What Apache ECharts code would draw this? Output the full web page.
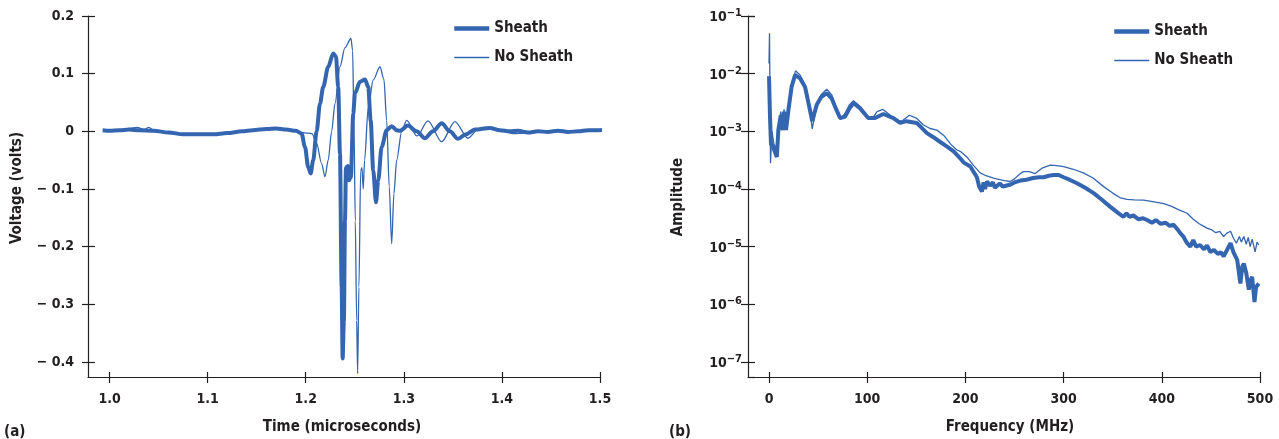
<!DOCTYPE html>
<html>
<head>
<meta charset="utf-8">
<script src="https://cdn.jsdelivr.net/npm/echarts@6/dist/echarts.min.js"></script>
<style>
html, body { margin: 0; padding: 0; background: #fff; }
#charts { width: 1279px; height: 439px; }
</style>
</head>
<body>
<div id="charts"></div>
<script>
// ticks
var timeTicks = [1.0, 1.1, 1.2, 1.3, 1.4, 1.5];
var voltTicks = [-0.4, -0.3, -0.2, -0.1, 0, 0.1, 0.2];
var freqTicks = [0, 100, 200, 300, 400, 500];

// (a) time domain
var sheathTime = [0.993, 1.000, 1.010, 1.020, 1.030, 1.045, 1.060, 1.075, 1.090, 1.106, 1.120, 1.135, 1.146, 1.160, 1.170, 1.180, 1.190,
    1.1958, 1.1992, 1.2025, 1.2050, 1.2076, 1.2111, 1.2145, 1.2178, 1.2229, 1.2280, 1.2308, 1.2331, 1.2349, 1.2366, 1.2376, 1.2389, 1.2400,
    1.2410, 1.2430, 1.2440, 1.2460, 1.2484, 1.2502, 1.2553, 1.2604, 1.2637, 1.2662, 1.2688, 1.2716, 1.2739, 1.2774, 1.2825, 1.2876, 1.2927,
    1.2960, 1.3042, 1.3130, 1.3215, 1.3297, 1.3386, 1.3470, 1.3552, 1.3634, 1.3725, 1.3878, 1.398, 1.408, 1.4165, 1.4266, 1.4368, 1.447,
    1.4572, 1.4674, 1.4776, 1.4878, 1.498, 1.5071];
var sheathVolt = [0.002, 0.001, 0.002, 0.003, 0.002, 0.001, -0.002, -0.005, -0.005, -0.005, -0.003, 0.000, 0.002, 0.004, 0.005, 0.003, 0.001,
    -0.004, -0.027, -0.062, -0.073, -0.050, 0.000, 0.048, 0.077, 0.112, 0.135, 0.130, 0.077, -0.039, -0.270, -0.394, -0.328, -0.155,
    -0.063, -0.060, -0.085, -0.080, 0.030, 0.066, 0.086, 0.090, 0.077, 0.019, -0.068, -0.123, -0.085, -0.027, 0.002, 0.009, 0.002,
    0.001, 0.010, 0.000, -0.012, 0.000, 0.014, 0.000, -0.013, -0.005, 0.003, 0.006, 0.002, 0.000, 0.001, -0.002, 0.000, -0.001,
    0.001, -0.001, 0.000, 0.002, 0.002, 0.003];

var noSheathTime = [0.993, 1.005, 1.015, 1.020, 1.028, 1.035, 1.040, 1.045, 1.060, 1.075, 1.090, 1.106, 1.120, 1.135, 1.146, 1.160, 1.170,
    1.180, 1.190, 1.1958, 1.2025, 1.2063, 1.2110, 1.2162, 1.2196, 1.2229, 1.2264, 1.2298, 1.2349, 1.2400, 1.2461, 1.2478, 1.2491, 1.2505,
    1.2519, 1.2529, 1.2542, 1.2560, 1.2573, 1.2586, 1.2600, 1.2637, 1.2688, 1.2757, 1.2797, 1.2825, 1.2851, 1.2876, 1.2899, 1.2927, 1.2978,
    1.3029, 1.3134, 1.3246, 1.3386, 1.3521, 1.3654, 1.3756, 1.3827, 1.398, 1.4113, 1.4256, 1.4368, 1.447, 1.4572, 1.4674, 1.4776, 1.4878,
    1.498, 1.5071];
var noSheathVolt = [0.003, 0.002, 0.003, 0.005, 0.007, 0.003, 0.007, 0.002, -0.002, -0.004, -0.005, -0.004, -0.003, 0.000, 0.002, 0.003, 0.004,
    0.003, 0.001, -0.002, -0.003, -0.004, -0.020, -0.056, -0.079, -0.050, 0.000, 0.048, 0.112, 0.145, 0.161, 0.140, 0.019, -0.155,
    -0.328, -0.420, -0.270, -0.068, -0.063, -0.100, -0.050, 0.042, 0.089, 0.112, 0.090, 0.019, -0.096, -0.195, -0.108, -0.050, 0.000,
    0.019, -0.008, 0.018, -0.018, 0.017, -0.012, 0.003, 0.007, 0.002, -0.004, -0.003, 0.000, -0.001, 0.001, -0.001, 0.000, 0.002,
    0.002, 0.003];

// (b) spectrum
var sheathFreq = [0, 1, 2, 4, 6, 8, 9.5, 12, 14, 15.3, 17.3, 19.7, 23, 26.5, 31.6, 36.7, 41.8, 44, 48.6, 53, 58.8, 63.9, 68, 72.4, 77.5,
    82, 86, 92.8, 101, 108, 116.5, 126.7, 133.5, 140, 150.5, 160.8, 167, 174, 181, 188, 194.7, 198, 205, 211.7, 214, 216.8, 218.5, 220,
    222, 225, 228, 230, 232, 235, 238, 242, 246, 250, 256, 262, 269, 275, 279.6, 285, 290, 295, 300, 306, 313.6, 322, 330.6, 339, 347.6,
    355, 361, 364, 367, 371, 376, 381, 385, 390, 394, 398.6, 404, 408, 412, 416, 419, 422, 425, 429, 432, 435, 439, 443, 446, 449.5, 453,
    457, 460, 463, 466, 470, 473, 476.8, 480, 482, 483.5, 486, 488.6, 490, 492, 494.4, 496, 498.8];
var sheathAmp = [9e-3, 1.8e-3, 6e-4, 5.4e-4, 5e-4, 3.6e-4, 1.05e-3, 1.9e-3, 1.05e-3, 2.2e-3, 1.05e-3, 2.3e-3, 5.9e-3, 9.5e-3, 8.3e-3, 5.9e-3, 2.3e-3, 1.5e-3, 2.9e-3, 3.9e-3, 4.6e-3, 3.7e-3, 2.5e-3, 1.7e-3, 1.8e-3,
    2.5e-3, 3.1e-3, 2.5e-3, 1.7e-3, 1.7e-3, 2.0e-3, 1.7e-3, 1.4e-3, 1.5e-3, 1.4e-3, 9.3e-4, 8e-4, 6.6e-4, 5.5e-4, 4.5e-4, 3.4e-4, 2.9e-4, 2.45e-4, 1.6e-4, 1.1e-4, 9e-5, 1.3e-4, 1.0e-4,
    1.35e-4, 1.15e-4, 1.3e-4, 1.05e-4, 1.0e-4, 1.25e-4, 1.1e-4, 1.15e-4, 1.2e-4, 1.3e-4, 1.4e-4, 1.45e-4, 1.55e-4, 1.6e-4, 1.6e-4, 1.7e-4, 1.75e-4, 1.75e-4, 1.6e-4, 1.45e-4, 1.26e-4, 1.05e-4, 8.5e-5, 6.5e-5, 4.9e-5,
    3.9e-5, 3.3e-5, 3.8e-5, 3.3e-5, 3.5e-5, 3.0e-5, 3.1e-5, 2.9e-5, 2.6e-5, 2.9e-5, 2.5e-5, 2.6e-5, 2.3e-5, 2.4e-5, 2.0e-5, 1.7e-5, 1.5e-5, 1.2e-5, 1.0e-5, 1.3e-5, 1.0e-5, 1.07e-5, 9.0e-6, 1.05e-5, 8.1e-6, 8.8e-6,
    7.5e-6, 8.0e-6, 6.8e-6, 8.5e-6, 1.15e-5, 8e-6, 5.9e-6, 2.3e-6, 4.5e-6, 5.1e-6, 3.5e-6, 1.8e-6, 2.5e-6, 3.0e-6, 1.1e-6, 2.0e-6, 2.3e-6];

var noSheathFreq = [0, 0.5, 1.5, 3, 5, 8, 9.5, 12, 14, 15.3, 17.3, 19.7, 23, 27, 31.6, 36.7, 41.8, 44, 48.6, 53, 58.8, 63.9, 68, 72.4, 77,
    82, 86, 92.8, 101, 106, 110, 116, 122, 128, 135, 143, 150, 157, 164, 171, 178, 185, 191, 194.7, 201.5, 208, 215, 221, 228.6, 235, 240,
    245.7, 250, 255, 259, 265, 271, 278, 286.4, 293, 300, 310, 320, 330, 340.8, 350, 358, 364.6, 372, 381.6, 392, 402, 410, 418, 425.8,
    432, 438, 442, 446, 451, 455, 459, 463, 466, 470, 473, 476, 479, 481, 483.5, 486, 488, 490, 492, 495, 497, 498.8];
var noSheathAmp = [1.5e-2, 5e-2, 2.8e-4, 1.0e-3, 6e-4, 5e-4, 1.2e-3, 2.2e-3, 1.2e-3, 2.4e-3, 1.2e-3, 2.6e-3, 6.5e-3, 1.12e-2, 9.5e-3, 6.3e-3, 2.2e-3, 1.1e-3, 2.8e-3, 4.3e-3, 5.4e-3, 4.3e-3, 2.6e-3, 1.6e-3, 2.0e-3,
    2.9e-3, 3.4e-3, 2.7e-3, 1.7e-3, 1.75e-3, 2.2e-3, 2.4e-3, 2.0e-3, 1.6e-3, 1.5e-3, 1.9e-3, 1.7e-3, 1.3e-3, 1.12e-3, 1.05e-3, 8.5e-4, 6e-4, 4.8e-4, 4.5e-4, 3.6e-4, 2.6e-4, 1.9e-4, 1.7e-4, 1.55e-4, 1.45e-4, 1.4e-4,
    1.35e-4, 1.5e-4, 1.8e-4, 2.0e-4, 2.0e-4, 1.85e-4, 2.3e-4, 2.6e-4, 2.55e-4, 2.45e-4, 2.2e-4, 1.9e-4, 1.55e-4, 1.1e-4, 8.5e-5, 7.0e-5, 6.6e-5, 6.5e-5, 6.4e-5, 6.0e-5, 5.6e-5, 5.0e-5, 4.3e-5, 3.8e-5,
    3.0e-5, 2.5e-5, 2.3e-5, 2.1e-5, 1.95e-5, 1.75e-5, 1.85e-5, 1.5e-5, 1.7e-5, 1.85e-5, 1.4e-5, 1.15e-5, 1.5e-5, 1.2e-5, 1.5e-5, 1.1e-5, 1.45e-5, 1.0e-5, 1.35e-5, 8.1e-6, 1.2e-5, 1.07e-5];

var FONT = "'Liberation Sans Narrow', 'DejaVu Sans Condensed', 'Arial Narrow', 'Liberation Sans', sans-serif";
var INK = '#231f20';
var BLUE = '#3465b0';

function pairs(xs, ys) {
    return xs.map(function (x, i) { return [x, ys[i]]; });
}

function tickLabel(size) {
    return { fontFamily: FONT, fontWeight: 'bold', fontSize: size, color: INK };
}

var axisLine = { show: true, onZero: false, lineStyle: { color: INK, width: 1.2 } };
var noLine = { show: false, onZero: false };
var tickLine = { color: INK, width: 1.2 };

function mainX(grid, min, max, ticks, fmt) {
    return {
        type: 'value', gridIndex: grid, min: min, max: max, position: 'bottom',
        axisLine: axisLine,
        axisTick: { show: true, length: 6, customValues: ticks, lineStyle: tickLine },
        axisLabel: Object.assign({ customValues: ticks, margin: 15, formatter: fmt }, tickLabel(14)),
        splitLine: { show: false }
    };
}
// second axis only to make the ticks cross the axis line
function innerX(grid, min, max, ticks) {
    return {
        type: 'value', gridIndex: grid, min: min, max: max, position: 'bottom',
        axisLine: noLine,
        axisTick: { show: true, inside: true, length: 5, customValues: ticks, lineStyle: tickLine },
        axisLabel: { show: false }, splitLine: { show: false }
    };
}

function legendBox(left, top, names) {
    return {
        left: left, top: top, orient: 'vertical', padding: 0,
        itemWidth: 35, itemHeight: 14, itemGap: 14,
        itemStyle: { opacity: 0 },
        textStyle: tickLabel(15),
        data: [
            { name: names[0], lineStyle: { width: 4.5, color: BLUE } },
            { name: names[1], lineStyle: { width: 1.3, color: BLUE } }
        ]
    };
}

var myChart = echarts.init(document.getElementById('charts'));

option = {
    animation: false,
    backgroundColor: '#fff',
    grid: [
        { left: 88, top: 16, width: 512, height: 361 },
        { left: 748, top: 16, width: 512, height: 361 }
    ],
    legend: [
        legendBox(452, 21, ['Sheath', 'No Sheath']),
        legendBox(1112, 24, ['Sheath ', 'No Sheath '])
    ],
    xAxis: [
        mainX(0, 0.978, 1.5, timeTicks, function (v) { return v.toFixed(1); }),
        mainX(1, -21.4, 500, freqTicks, function (v) { return String(v); }),
        innerX(0, 0.978, 1.5, timeTicks),
        innerX(1, -21.4, 500, freqTicks)
    ],
    yAxis: [
        {
            type: 'value', gridIndex: 0, min: -0.426, max: 0.2, position: 'left',
            axisLine: axisLine,
            axisTick: { show: true, length: 6, customValues: voltTicks, lineStyle: tickLine },
            axisLabel: Object.assign({
                customValues: voltTicks, margin: 14,
                formatter: function (v) {
                    if (Math.abs(v) < 1e-9) return '0';
                    return v < 0 ? '\u2212 ' + Math.abs(v).toFixed(1) : v.toFixed(1);
                }
            }, tickLabel(14)),
            splitLine: { show: false }
        },
        {
            type: 'log', logBase: 10, gridIndex: 1, min: 5.5e-8, max: 0.1, position: 'left',
            axisLine: axisLine,
            axisTick: { show: true, length: 7, lineStyle: tickLine },
            axisLabel: {
                showMinLabel: false, margin: 6,
                formatter: function (v) {
                    var e = Math.round(Math.log(v) / Math.LN10);
                    return '{b|10}{s|\u2212' + (-e) + '}';
                },
                rich: {
                    b: { fontFamily: FONT, fontWeight: 'bold', fontSize: 14, color: INK, lineHeight: 17, verticalAlign: 'bottom' },
                    s: { fontFamily: FONT, fontWeight: 'bold', fontSize: 11, color: INK, lineHeight: 11, verticalAlign: 'top' }
                }
            },
            splitLine: { show: false }
        },
        {
            type: 'value', gridIndex: 0, min: -0.426, max: 0.2, position: 'left',
            axisLine: noLine,
            axisTick: { show: true, inside: true, length: 7, customValues: voltTicks, lineStyle: tickLine },
            axisLabel: { show: false }, splitLine: { show: false }
        },
        {
            type: 'log', logBase: 10, gridIndex: 1, min: 5.5e-8, max: 0.1, position: 'left',
            axisLine: noLine,
            axisTick: { show: true, inside: true, length: 7, lineStyle: tickLine },
            axisLabel: { show: false }, splitLine: { show: false }
        }
    ],
    series: [
        {
            name: 'No Sheath', type: 'line', xAxisIndex: 0, yAxisIndex: 0,
            data: pairs(noSheathTime, noSheathVolt), symbol: 'none', clip: false,
            smooth: 0.3, smoothMonotone: 'x',
            lineStyle: { color: BLUE, width: 1.3 }, itemStyle: { color: BLUE }
        },
        {
            name: 'Sheath', type: 'line', xAxisIndex: 0, yAxisIndex: 0,
            data: pairs(sheathTime, sheathVolt), symbol: 'none', clip: false,
            smooth: 0.3, smoothMonotone: 'x',
            lineStyle: { color: BLUE, width: 4 }, itemStyle: { color: BLUE }
        },
        {
            name: 'No Sheath ', type: 'line', xAxisIndex: 1, yAxisIndex: 1,
            data: pairs(noSheathFreq, noSheathAmp), symbol: 'none', clip: false,
            lineStyle: { color: BLUE, width: 1.3 }, itemStyle: { color: BLUE }
        },
        {
            name: 'Sheath ', type: 'line', xAxisIndex: 1, yAxisIndex: 1,
            data: pairs(sheathFreq, sheathAmp), symbol: 'none', clip: false,
            lineStyle: { color: BLUE, width: 4 }, itemStyle: { color: BLUE }
        }
    ],
    graphic: [
        { type: 'text', x: 17, y: 188, rotation: Math.PI / 2,
          style: { text: 'Voltage (volts)', font: 'bold 15px ' + FONT, fill: INK, align: 'center', verticalAlign: 'middle' } },
        { type: 'text', x: 678, y: 197, rotation: Math.PI / 2,
          style: { text: 'Amplitude', font: 'bold 15px ' + FONT, fill: INK, align: 'center', verticalAlign: 'middle' } },
        { type: 'text', x: 342, y: 427,
          style: { text: 'Time (microseconds)', font: 'bold 15px ' + FONT, fill: INK, align: 'center', verticalAlign: 'middle' } },
        { type: 'text', x: 1010, y: 427,
          style: { text: 'Frequency (MHz)', font: 'bold 15px ' + FONT, fill: INK, align: 'center', verticalAlign: 'middle' } },
        { type: 'text', x: 4, y: 432,
          style: { text: '(a)', font: 'bold 15px ' + FONT, fill: INK, align: 'left', verticalAlign: 'middle' } },
        { type: 'text', x: 669, y: 432,
          style: { text: '(b)', font: 'bold 15px ' + FONT, fill: INK, align: 'left', verticalAlign: 'middle' } }
    ]
};

myChart.setOption(option);
</script>
</body>
</html>
